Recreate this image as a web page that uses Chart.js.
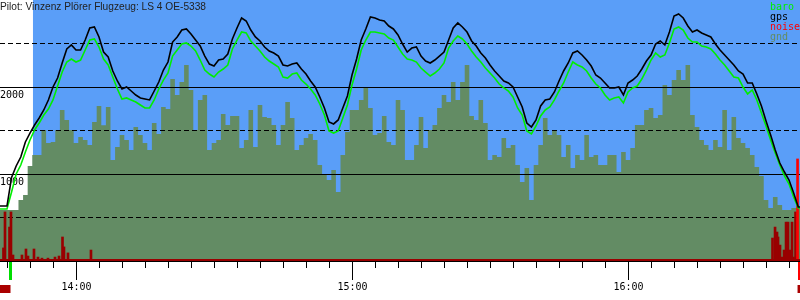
<!DOCTYPE html>
<html>
<head>
<meta charset="utf-8">
<script src="https://cdn.jsdelivr.net/npm/chart.js@4.4.1/dist/chart.umd.min.js"></script>
<style>
  body { margin: 0; background: #fff; }
  #wrap { width: 800px; height: 300px; }
</style>
</head>
<body>
<div id="wrap"><canvas id="flight" width="800" height="300"></canvas></div>
<script>
// "HH:MM[:SS]" -> minutes since midnight
const hm = (s) => {
  const p = s.split(":").map(Number);
  return p[0] * 60 + p[1] + (p[2] || 0) / 60;
};

const TITLE = "Pilot: Vinzenz Plörer Flugzeug: LS 4 OE-5338";

const viewFrom = hm("13:43:29");
const viewTo = hm("16:37:23");
const takeoff = hm("13:45:46");
const release = hm("13:50:39");
const landing = hm("16:36:51");
const firstSample = hm("13:43:00"); // one sample per minute from here

const hourLabels = ["14:00", "15:00", "16:00"];
const altLabels = [1000, 2000];
const altDashed = [500, 1500, 2500];

// altitudes in m, one per minute 13:43 .. 16:38
const gpsAlt = [632,
  632, 632, 960, 1092, 1195, 1368, 1471, 1563, 1644, 1736,
  1851, 2000, 2103, 2276, 2437, 2483, 2425, 2425, 2540, 2678,
  2690, 2575, 2402, 2345, 2184, 2069, 1977, 2000, 1954, 1908,
  1874, 1862, 1851, 1954, 2057, 2195, 2287, 2517, 2575, 2655,
  2667, 2609, 2540, 2471, 2356, 2264, 2241, 2310, 2322, 2379,
  2552, 2678, 2793, 2759, 2655, 2575, 2529, 2460, 2414, 2391,
  2356, 2253, 2241, 2264, 2276, 2207, 2149, 2069, 2000, 1885,
  1759, 1598, 1575, 1621, 1759, 1897, 2138, 2322, 2540, 2667,
  2805, 2793, 2770, 2759, 2701, 2667, 2598, 2494, 2402, 2448,
  2460, 2356, 2299, 2276, 2310, 2356, 2402, 2540, 2678, 2736,
  2690, 2632, 2529, 2471, 2391, 2333, 2253, 2184, 2126, 2069,
  2046, 2000, 1885, 1770, 1586, 1540, 1621, 1782, 1851, 1862,
  1943, 2069, 2184, 2276, 2391, 2414, 2368, 2310, 2241, 2138,
  2103, 2046, 1989, 1989, 2000, 1908, 2046, 2080, 2126, 2207,
  2299, 2368, 2494, 2529, 2483, 2632, 2816, 2839, 2793, 2701,
  2632, 2655, 2621, 2598, 2575, 2494, 2425, 2368, 2310, 2253,
  2184, 2149, 2046, 2046, 1920, 1782, 1609, 1448, 1276, 1126,
  1023, 931, 782, 621,
  621];

const baroAlt = [598,
  598, 598, 793, 1000, 1103, 1253, 1391, 1506, 1586, 1678,
  1747, 1851, 2011, 2172, 2287, 2322, 2287, 2310, 2425, 2540,
  2552, 2460, 2322, 2253, 2115, 1977, 1862, 1874, 1851, 1828,
  1793, 1759, 1759, 1851, 1977, 2080, 2161, 2356, 2425, 2494,
  2506, 2471, 2414, 2310, 2195, 2149, 2115, 2172, 2207, 2253,
  2437, 2540, 2632, 2621, 2529, 2471, 2414, 2345, 2299, 2264,
  2230, 2115, 2103, 2149, 2161, 2080, 2034, 1977, 1908, 1805,
  1678, 1494, 1471, 1494, 1644, 1793, 2023, 2207, 2425, 2540,
  2632, 2632, 2621, 2609, 2563, 2540, 2460, 2379, 2322, 2310,
  2287, 2218, 2172, 2126, 2161, 2207, 2276, 2448, 2529, 2586,
  2552, 2494, 2414, 2345, 2287, 2218, 2161, 2103, 2034, 1989,
  1954, 1885, 1759, 1678, 1494, 1460, 1552, 1667, 1736, 1770,
  1851, 1954, 2046, 2172, 2287, 2253, 2230, 2184, 2103, 2034,
  1989, 1908, 1851, 1874, 1885, 1816, 1943, 1989, 2011, 2092,
  2195, 2310, 2391, 2345, 2368, 2506, 2667, 2690, 2655, 2563,
  2517, 2517, 2471, 2460, 2437, 2379, 2310, 2253, 2184, 2115,
  2103, 2000, 1920, 1966, 1851, 1701, 1552, 1391, 1241, 1103,
  977, 885, 736, 609,
  609];

const gndAlt = [586,
  586, 586, 586, 586, 701, 759, 1092, 1218, 1218, 1506,
  1356, 1368, 1506, 1736, 1621, 1506, 1356, 1425, 1391, 1333,
  1598, 1782, 1559, 1770, 1161, 1310, 1448, 1391, 1276, 1540,
  1448, 1356, 1276, 1586, 1460, 1770, 1747, 2092, 1908, 2057,
  2253, 1966, 1506, 1851, 1908, 1276, 1356, 1391, 1690, 1563,
  1667, 1667, 1299, 1391, 1736, 1310, 1793, 1655, 1644, 1563,
  1333, 1563, 1828, 1644, 1276, 1333, 1414, 1460, 1391, 1103,
  989, 931, 1046, 793, 1218, 1483, 1736, 1736, 1851, 2000,
  1759, 1448, 1471, 1667, 1368, 1333, 1851, 1736, 1161, 1161,
  1333, 1655, 1299, 1506, 1563, 1759, 1908, 1828, 2057, 1851,
  2057, 2253, 1667, 1621, 1851, 1586, 1161, 1218, 1195, 1414,
  1299, 1333, 1103, 908, 1069, 701, 1103, 1333, 1644, 1448,
  1506, 1448, 1195, 1333, 1069, 1218, 1161, 1448, 1195, 1218,
  1103, 1103, 1218, 1218, 1023, 1253, 1161, 1299, 1563, 1563,
  1736, 1759, 1644, 1678, 2023, 1908, 2080, 2195, 2080, 2253,
  1678, 1540, 1391, 1333, 1276, 1391, 1310, 1736, 1276, 1655,
  1414, 1356, 1299, 1218, 1080, 977, 701, 609, 736, 644,
  586, 586, 609, 609,
  609];

// engine noise level (0..1000) at the moments it rose above zero
const noiseTime = [824.24, 824.57, 825.55, 825.87, 826.31, 828.26, 829.13, 829.57,
  830.87, 831.74, 832.61, 833.91, 835.44, 836.31, 837.07, 837.39, 838.26, 843.26,
  991.41, 991.96, 992.39, 992.61, 993.04, 993.48, 993.91, 994.35, 994.78, 995.22,
  995.65, 995.98, 996.41, 996.85];
const noiseLevel = [50, 188, 130, 188, 23, 23, 46, 19,
  46, 15, 11, 11, 15, 19, 92, 54, 31, 42,
  88, 130, 111, 92, 61, 15, 42, 149, 149, 42,
  149, 15, 188, 391];

const series = (arr) => arr.map((v, i) => ({ x: firstSample + i, y: v }));
const noisePts = noiseTime.map((t, i) => ({ x: t, y: noiseLevel[i] }));

const barogramPlugin = {
  id: "barogram",
  beforeDatasetsDraw(chart) {
    const { ctx, chartArea: a, scales: { x } } = chart;
    ctx.save();
    ctx.fillStyle = "#5a9ef8";
    const bx = x.getPixelForValue(release);
    ctx.fillRect(bx, a.top, a.right - bx, a.bottom - a.top);
    ctx.restore();
  },
  afterDatasetDraw(chart, args) {
    if (args.meta.label !== "gnd") return;
    const { ctx, chartArea: a, scales: { y } } = chart;
    ctx.save();
    ctx.strokeStyle = "#000";
    ctx.lineWidth = 1;
    ctx.setLineDash([5, 3]);
    altDashed.forEach((v) => {
      const py = Math.floor(y.getPixelForValue(v)) + 0.5;
      ctx.beginPath();
      ctx.moveTo(a.left, py);
      ctx.lineTo(a.right, py);
      ctx.stroke();
    });
    ctx.setLineDash([]);
    ctx.fillStyle = "#000";
    ctx.font = "10px 'DejaVu Sans Mono'";
    ctx.textBaseline = "alphabetic";
    altLabels.forEach((v) => {
      const py = Math.floor(y.getPixelForValue(v)) + 0.5;
      ctx.beginPath();
      ctx.moveTo(a.left, py);
      ctx.lineTo(a.right, py);
      ctx.stroke();
      ctx.fillText(String(v), a.left, py + 10.5);
    });
    ctx.restore();
  },
  afterDraw(chart) {
    const { ctx, chartArea: a, scales: { x } } = chart;
    ctx.save();
    // noise baseline and x axis
    ctx.fillStyle = "#990000";
    ctx.fillRect(a.left, a.bottom - 2, a.right - a.left, 2);
    ctx.fillStyle = "#000";
    ctx.fillRect(a.left, a.bottom, a.right - a.left, 1);

    // ticks every 5 minutes, long ones on the hour
    for (let m = Math.ceil(viewFrom / 5) * 5; m <= viewTo; m += 5) {
      const px = Math.round(x.getPixelForValue(m));
      const len = m % 60 === 0 ? 18 : 6;
      ctx.fillRect(px, a.bottom + 1, 1, len);
    }
    ctx.font = "10px 'DejaVu Sans Mono'";
    ctx.textAlign = "center";
    ctx.textBaseline = "alphabetic";
    hourLabels.forEach((lbl) => {
      const px = Math.round(x.getPixelForValue(hm(lbl)));
      ctx.fillText(lbl, px + 0.5, a.bottom + 29);
    });

    // takeoff / landing marks
    const tx = x.getPixelForValue(takeoff);
    const lx = x.getPixelForValue(landing);
    ctx.fillStyle = "#00dd00";
    ctx.fillRect(Math.round(tx) - 2, a.bottom + 1, 3, 18);
    ctx.fillStyle = "#ff0000";
    ctx.fillRect(Math.round(lx), a.bottom + 1, 2, 18);
    ctx.fillStyle = "#aa0000";
    ctx.fillRect(a.left, a.bottom + 24, tx - a.left, 8);
    ctx.fillRect(lx, a.bottom + 24, a.right - lx, 8);

    // title
    ctx.textAlign = "left";
    ctx.fillStyle = "#222";
    ctx.font = "11px 'Liberation Sans'";
    ctx.fillText(TITLE, 0, 10, 206);

    // key
    ctx.font = "10px 'DejaVu Sans Mono'";
    chart.data.datasets.forEach((ds, i) => {
      ctx.fillStyle = ds.keyColor;
      ctx.fillText(ds.label, 770, 10 + i * 10);
    });
    ctx.restore();
  },
};

new Chart(document.getElementById("flight"), {
  type: "line",
  data: {
    datasets: [
      {
        label: "baro",
        data: series(baroAlt),
        borderColor: "#00ee00",
        keyColor: "#00ee00",
        borderWidth: 1.6,
        pointRadius: 0,
        fill: false,
        order: 2,
      },
      {
        label: "gps",
        data: series(gpsAlt),
        borderColor: "#000000",
        keyColor: "#000000",
        borderWidth: 1.6,
        pointRadius: 0,
        fill: false,
        order: 1,
      },
      {
        label: "noise",
        type: "bar",
        data: noisePts,
        yAxisID: "yNoise",
        backgroundColor: (c) => (c.raw && c.raw.y > 300 ? "#ff0000" : "#990000"),
        keyColor: "#ff0000",
        barThickness: 2,
        grouped: false,
        order: 3,
      },
      {
        label: "gnd",
        data: series(gndAlt),
        borderColor: "#638c64",
        backgroundColor: "#638c64",
        keyColor: "#638c64",
        borderWidth: 0,
        pointRadius: 0,
        stepped: "middle",
        fill: "origin",
        order: 4,
      },
    ],
  },
  options: {
    responsive: false,
    animation: false,
    events: [],
    layout: { autoPadding: false, padding: { left: 0, right: 0, top: 0, bottom: 39 } },
    plugins: { legend: { display: false }, tooltip: { enabled: false } },
    scales: {
      x: { type: "linear", min: viewFrom, max: viewTo, offset: false, display: false },
      y: { min: 0, max: 3000, display: false },
      yNoise: { min: 0, max: 1000, display: false },
    },
  },
  plugins: [barogramPlugin],
});
</script>
</body>
</html>
